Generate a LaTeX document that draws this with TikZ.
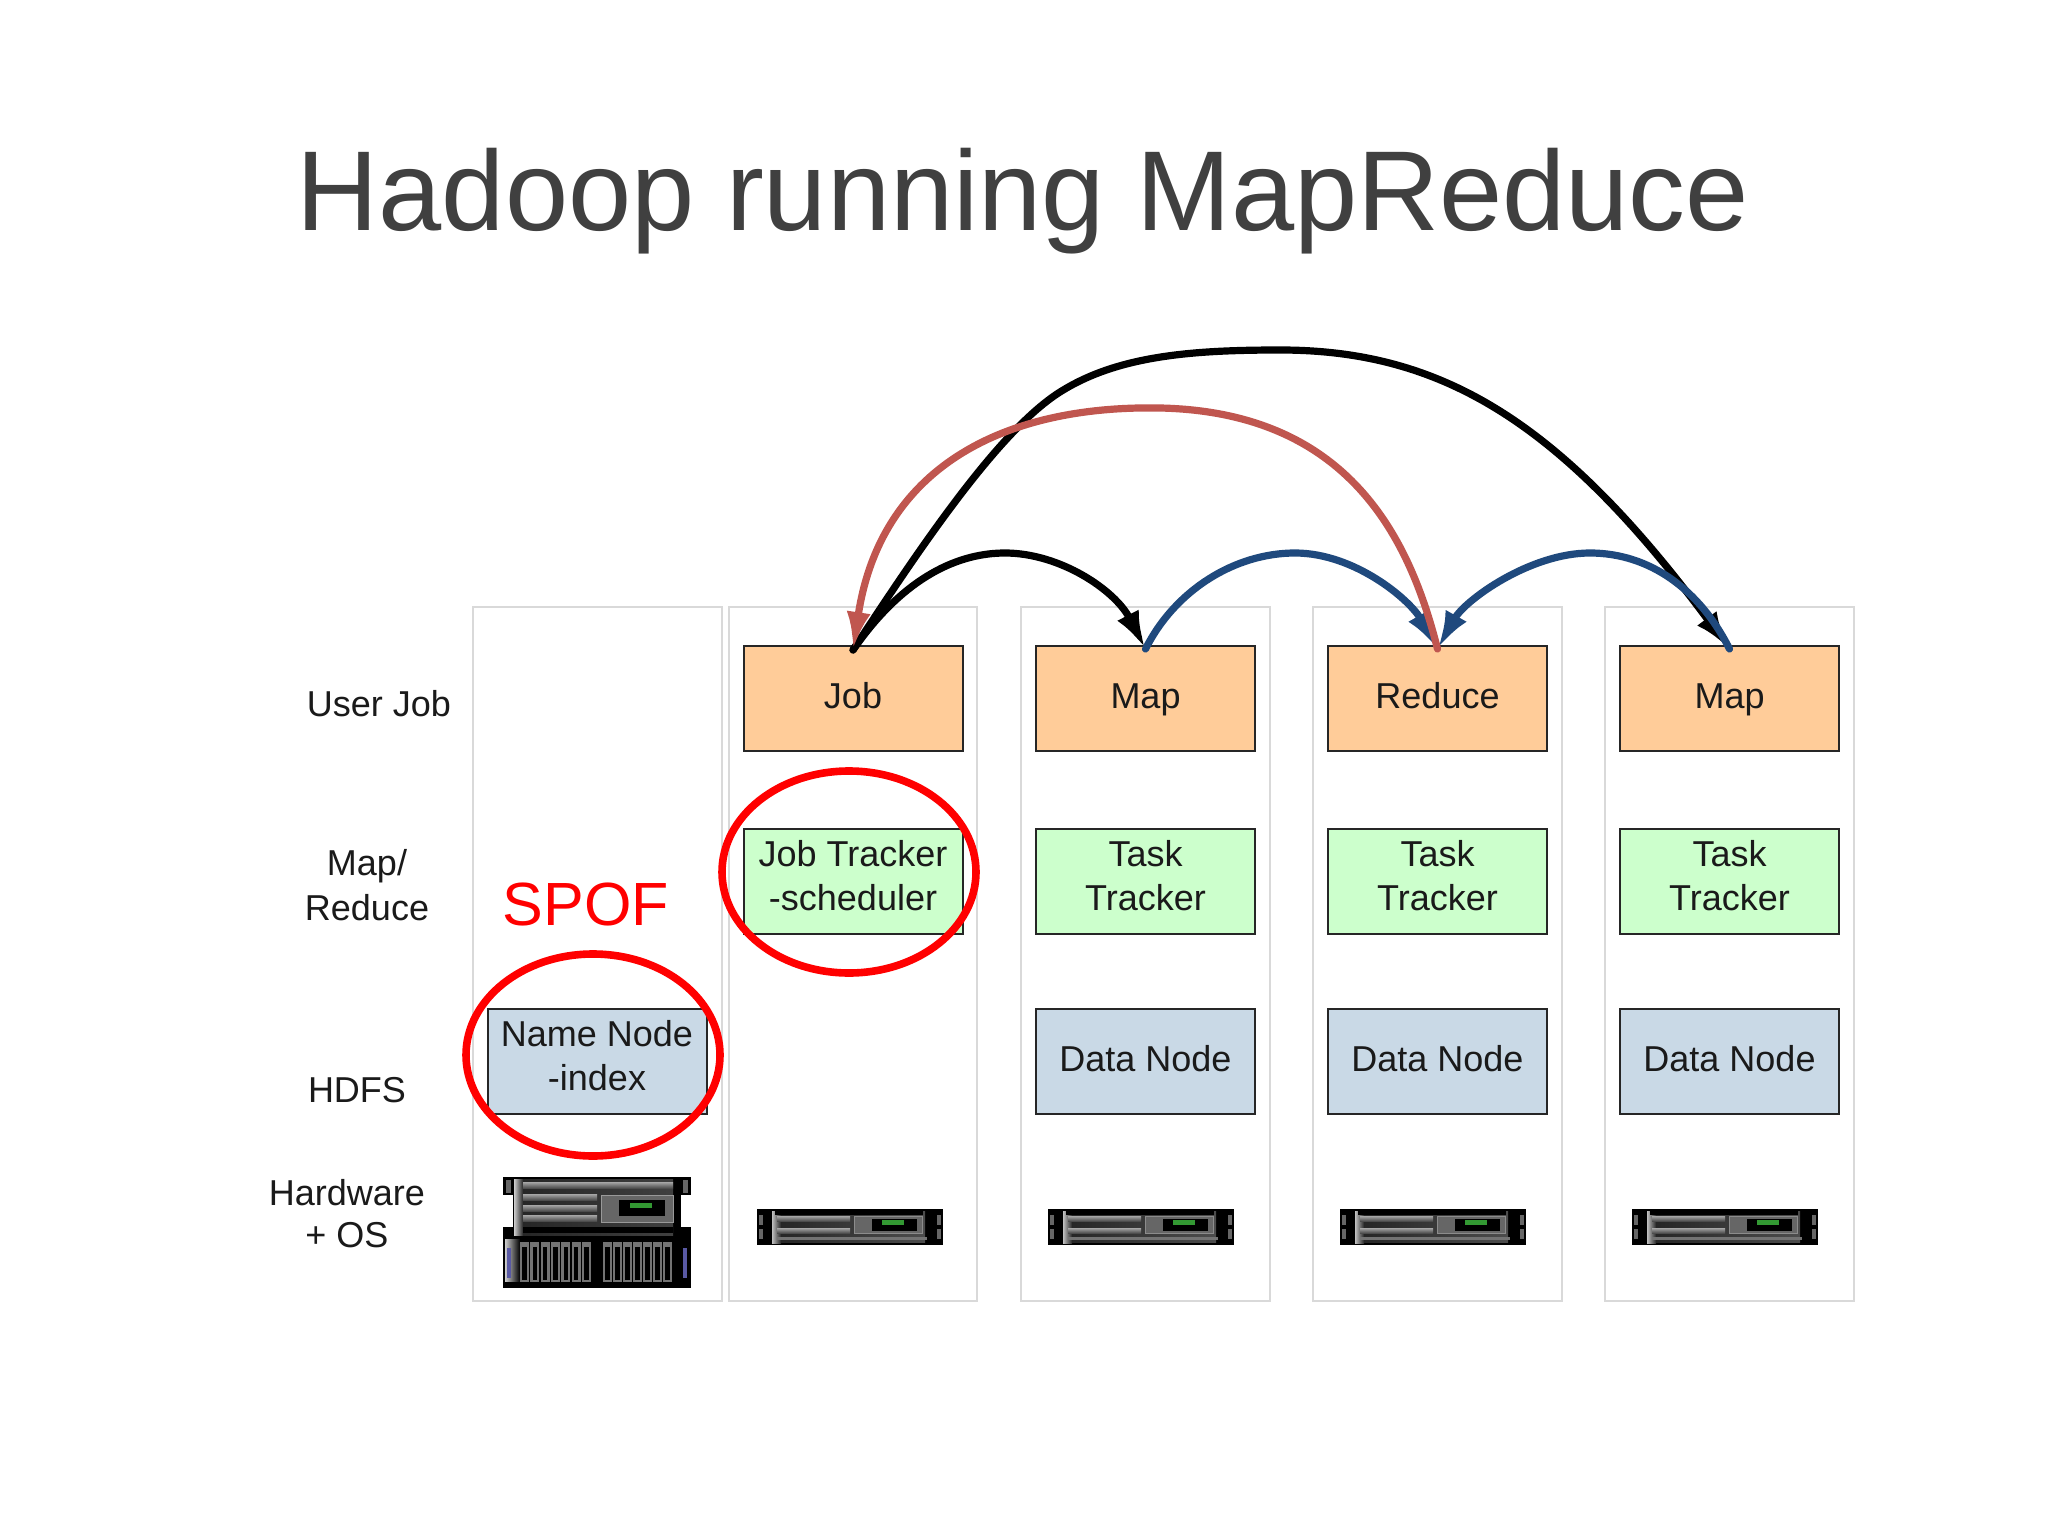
\documentclass[tikz,border=0pt]{standalone}
\usepackage{fontspec}
\setmainfont{Liberation Sans}
\usetikzlibrary{arrows.meta,calc}
\definecolor{orangefill}{HTML}{FFCC99}
\definecolor{greenfill}{HTML}{CCFFCC}
\definecolor{bluefill}{HTML}{C9D9E6}
\definecolor{colline}{HTML}{D9D9D9}
\definecolor{redarc}{HTML}{C0564F}
\definecolor{bluearc}{HTML}{1F497D}
\definecolor{ink}{HTML}{1A1A1A}
\definecolor{titleink}{HTML}{404040}
\tikzset{
  colbox/.style={draw=colline,line width=1.3pt,fill=white},
  box/.style={draw=black!85,line width=1pt,minimum width=109.5pt,minimum height=52.5pt,inner sep=0pt,align=center,text=ink,font=\fontsize{18}{22}\selectfont,
    execute at begin node={\rule{0pt}{15.4pt}},execute at end node={\rule[-5.4pt]{0pt}{5.4pt}}},
  twoline/.style={execute at end node={\rule[0pt]{0pt}{1pt}}},
  jobbox/.style={box,fill=orangefill},
  trackerbox/.style={box,fill=greenfill,twoline},
  hdfsbox/.style={box,fill=bluefill},
  sidelabel/.style={align=center,text=ink,inner sep=0pt,font=\fontsize{18}{21}\selectfont},
  spofring/.style={draw=red,line width=3.8pt},
  curvearrow/.style={line width=3.6pt,line cap=round,-{Latex[length=19pt,width=12pt]}},
  smallserver/.pic={
    \fill[black] (0,0) rectangle (186,36);
    \shade[left color=black!25,right color=black!85] (15,2) rectangle (24,34);
    \shade[left color=black!85,right color=black!70] (24,2) rectangle (168,33);
    \fill[black] (18,2) rectangle (166,6);
    \shade[top color=black!35,bottom color=black!70] (20,7) rectangle (93,12);
    \shade[top color=black!35,bottom color=black!70] (20,19) rectangle (93,24);
    \fill[black!55] (20,28) rectangle (170,31);
    \fill[black!60,draw=black!45,line width=.5pt] (97,7) rectangle (165,24);
    \fill[black] (115,10) rectangle (160,22);
    \fill[green!50!black!80] (125,11) rectangle (147,15.5);
    \fill[black!60] (2,6) rectangle (6,16);
    \fill[black!60] (2,20) rectangle (6,30);
    \fill[black!60] (180,6) rectangle (184,16);
    \fill[black!60] (180,20) rectangle (184,30);
  },
  bigserver/.pic={
    \fill[black] (0,0) rectangle (188,18);
    \fill[black] (10,0) rectangle (178,52);
    \fill[black] (0,50) rectangle (188,111);
    \shade[left color=black!20,right color=black!85] (11,2) rectangle (20,58);
    \shade[left color=black!85,right color=black!75] (20,2) rectangle (170,58);
    \shade[top color=black!35,bottom color=black!70] (20,5) rectangle (170,11);
    \shade[top color=black!35,bottom color=black!70] (20,17) rectangle (94,23);
    \shade[top color=black!35,bottom color=black!70] (20,28) rectangle (94,34);
    \shade[top color=black!35,bottom color=black!70] (20,38) rectangle (94,44);
    \fill[black] (20,50) rectangle (170,56);
    \fill[black!60,draw=black!40,line width=.5pt] (98,18) rectangle (170,45);
    \fill[black] (116,23) rectangle (162,39);
    \fill[green!50!black!80] (127,26) rectangle (149,31);
    \fill[black!60] (3,3) rectangle (8,16);
    \fill[black!60] (180,3) rectangle (185,16);
    \shade[left color=black!20,right color=black] (2,62) rectangle (17,104);
    \fill[blue!45!black!65] (4,71) rectangle (8,101);
    \fill[blue!45!black!65] (180,71) rectangle (184,101);
    \foreach \dx in {17,27.3,37.6,47.9,58.2,68.5,78.8,100,110,120,130,140,150,160}{
      \fill[black!55] (\dx,65) rectangle ++(9,40);
      \fill[black] ($(\dx,70)+(2.3,0)$) rectangle ++(4.4,33);
    }
  }
}
\begin{document}
\begin{tikzpicture}[x=0.5pt,y=-0.5pt]
\useasboundingbox (0,0) rectangle (2048,1535);
\fill[white] (0,0) rectangle (2048,1535);
\node[anchor=base,font=\fontsize{56.8}{60}\selectfont,text=titleink,inner sep=0pt] (title) at (1023,231) {Hadoop running MapReduce};

\draw[colbox] (473,607) rectangle (722,1301);
\draw[colbox] (729,607) rectangle (977,1301);
\draw[colbox] (1021,607) rectangle (1270,1301);
\draw[colbox] (1313,607) rectangle (1562,1301);
\draw[colbox] (1605,607) rectangle (1854,1301);

\node[jobbox] (job) at (853,698.5) {Job};
\node[jobbox] (mapa) at (1145.5,698.5) {Map};
\node[jobbox] (reduce) at (1437.5,698.5) {Reduce};
\node[jobbox] (mapb) at (1729.5,698.5) {Map};

\node[trackerbox] (jt) at (853,881) {Job Tracker\\-scheduler};
\node[trackerbox] (tta) at (1145.5,881) {Task\\Tracker};
\node[trackerbox] (ttb) at (1437.5,881) {Task\\Tracker};
\node[trackerbox] (ttc) at (1729.5,881) {Task\\Tracker};

\node[hdfsbox,twoline] (nn) at (597,1061) {Name Node\\-index};
\node[hdfsbox] (dna) at (1145.5,1061) {Data Node};
\node[hdfsbox] (dnb) at (1437.5,1061) {Data Node};
\node[hdfsbox] (dnc) at (1729.5,1061) {Data Node};

\node[sidelabel] (l1) at (379,704) {User Job};
\node[sidelabel,font=\fontsize{18}{22.5}\selectfont] (l2) at (367,885) {Map/\\Reduce};
\node[sidelabel] (l3) at (357,1090) {HDFS};
\node[sidelabel] (l4) at (347,1214) {Hardware\\+ OS};
\node[text=red,inner sep=0pt,font=\fontsize{30.5}{34}\selectfont] (spof) at (586,904) {SPOF};

\pic at (503,1177) {bigserver};
\pic at (757,1209) {smallserver};
\pic at (1048,1209) {smallserver};
\pic at (1340,1209) {smallserver};
\pic at (1632,1209) {smallserver};

\draw[spofring] (849,872) ellipse [x radius=127,y radius=101];
\draw[spofring] (593,1055) ellipse [x radius=127,y radius=101];

\coordinate (jobT) at ($(job.north)+(0,5)$);
\coordinate (mapaT) at ($(mapa.north)+(0,4)$);
\coordinate (reduceT) at ($(reduce.north)+(0,4)$);
\coordinate (mapbT) at ($(mapb.north)+(0,4)$);
\coordinate (peakA) at (1005,553);
\coordinate (peakB) at (1295,553);
\coordinate (peakC) at (1590,553);
\coordinate (peakBig) at (1280,350);
\coordinate (peakRed) at (1160,408);
\coordinate (bendBig) at (1060,392);

\draw[curvearrow,black] (jobT) .. controls (925,540) and (1000,430) .. (bendBig) .. controls (1117,356) and (1190,350) .. (peakBig) .. controls (1440,350) and (1560,420) .. (mapbT);
\draw[curvearrow,black] (jobT) .. controls (905,575) and (960,553) .. (peakA) .. controls (1060,553) and (1115,590) .. (mapaT);
\draw[curvearrow,bluearc] (mapaT) .. controls (1175,590) and (1235,553) .. (peakB) .. controls (1355,553) and (1410,600) .. (reduceT);
\draw[curvearrow,bluearc] (mapbT) .. controls (1700,590) and (1650,553) .. (peakC) .. controls (1530,553) and (1465,600) .. (reduceT);
\draw[curvearrow,redarc] (reduceT) .. controls (1410,540) and (1350,412) .. (peakRed) .. controls (1000,405) and (880,470) .. (jobT);
\end{tikzpicture}
\end{document}
